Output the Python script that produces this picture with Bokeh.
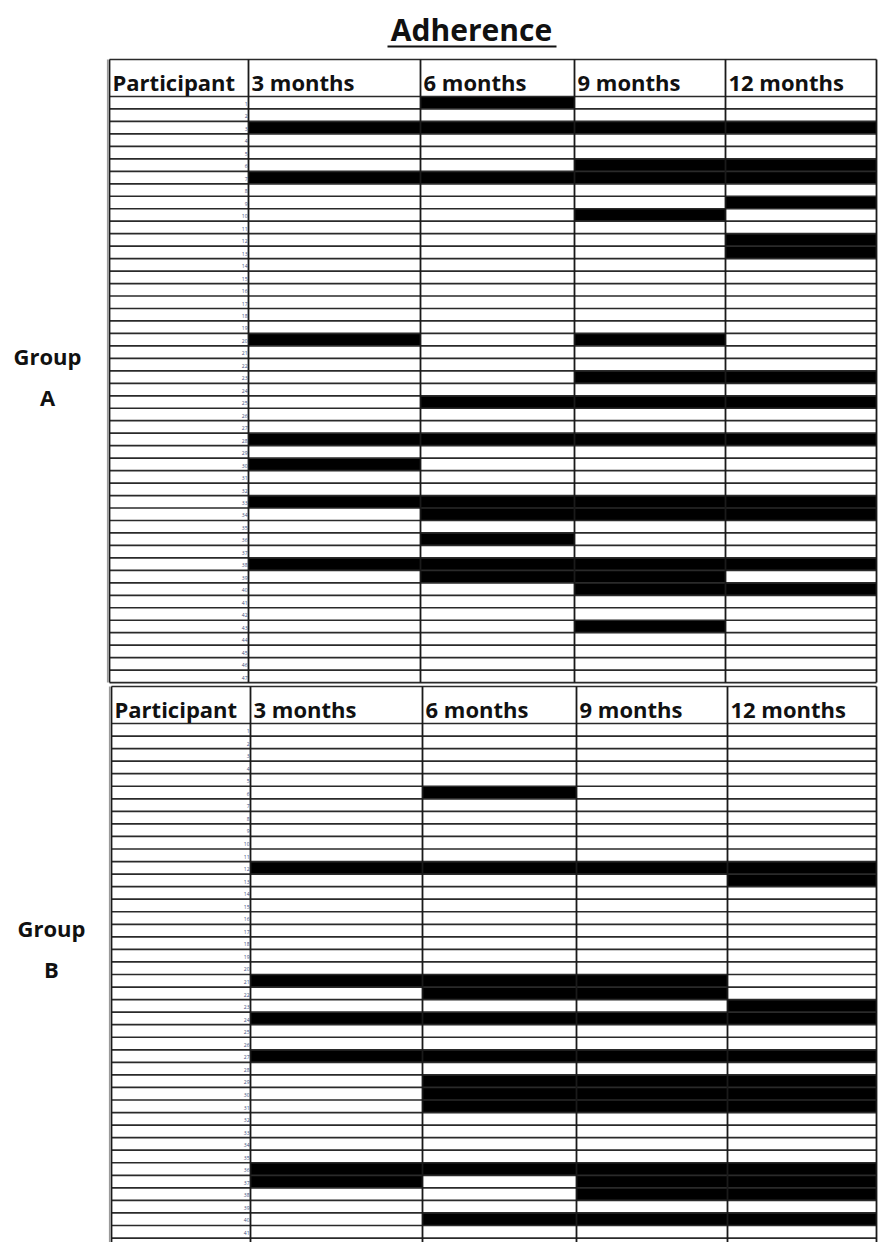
from bokeh.plotting import figure
from bokeh.models import Range1d
from bokeh.core.properties import value
from bokeh.embed import file_html
from bokeh.resources import INLINE

# ---------------- data ----------------
title = "Adherence"
months = ["3 months", "6 months", "9 months", "12 months"]
id_header = "Participant"

group_a_label = ["Group", "A"]
group_a_ids = [str(i) for i in range(1, 48)]          # 47 participants (labels illegible)
# participant rows (1-based) shown black at each visit
group_a_3m = [3, 7, 20, 28, 30, 33, 38]
group_a_6m = [1, 3, 7, 25, 28, 33, 34, 36, 38, 39]
group_a_9m = [3, 6, 7, 10, 20, 23, 25, 28, 33, 34, 38, 39, 40, 43]
group_a_12m = [3, 6, 7, 9, 12, 13, 23, 25, 28, 33, 34, 38, 40]

group_b_label = ["Group", "B"]
group_b_ids = [str(i) for i in range(1, 42)]          # visible rows (table is cut at bottom)
group_b_3m = [12, 21, 24, 27, 36, 37]
group_b_6m = [6, 12, 21, 22, 24, 27, 29, 30, 31, 36, 40]
group_b_9m = [12, 21, 22, 24, 27, 29, 30, 31, 36, 37, 38, 40]
group_b_12m = [12, 13, 23, 24, 27, 29, 30, 31, 36, 37, 38, 40]

# ---------------- layout ----------------
W, H = 879, 1242
FONT = "Open Sans"

p = figure(width=W, height=H, x_range=Range1d(0, W), y_range=Range1d(H, 0),
           output_backend="svg", toolbar_location=None, min_border=0)
p.axis.visible = False
p.grid.visible = False
p.outline_line_color = None
p.background_fill_color = "white"

# title
p.text(x=[471], y=[29], text=[title], text_align="center", text_baseline="middle",
       text_font=value(FONT), text_font_size="30px", text_font_style="bold", text_color="#111111")
p.segment(x0=[387], y0=[46], x1=[556], y1=[46], line_color="#111111", line_width=2.2)


def draw_group(ids, flags, label, edges, head_top, head_bot, row_h, label_x, label_y, extra=0):
    n = len(ids)
    bottom = head_bot + (n + extra) * row_h
    # black cells
    L, R, T, B = [], [], [], []
    for c, rows in enumerate(flags):
        for r in rows:
            L.append(edges[c + 1]); R.append(edges[c + 2])
            T.append(head_bot + (r - 1) * row_h); B.append(head_bot + r * row_h)
    p.quad(left=L, right=R, top=T, bottom=B, fill_color="black", line_color=None)
    # horizontal row lines
    ys = [head_top, head_bot] + [head_bot + (i + 1) * row_h for i in range(n + extra)]
    p.segment(x0=[edges[0]] * len(ys), y0=ys, x1=[edges[-1]] * len(ys), y1=ys,
              line_color="#2a2a2a", line_width=1.7)
    # vertical lines
    p.segment(x0=edges, y0=[head_top] * len(edges), x1=edges, y1=[bottom] * len(edges),
              line_color="#1a1a1a", line_width=1.8)
    p.segment(x0=[edges[0] - 2], y0=[head_top], x1=[edges[0] - 2], y1=[bottom],
              line_color="#9a9a9a", line_width=1.2)
    # header texts
    hy = head_top + 22
    p.text(x=[edges[0] + 3] + [e + 3 for e in edges[1:5]], y=[hy] * 5,
           text=[id_header] + months, text_align="left", text_baseline="middle",
           text_font=value(FONT), text_font_size="22px", text_font_style="bold",
           text_color="#111111")
    # participant ids (tiny)
    p.text(x=[edges[1] - 1] * n, y=[head_bot + (i + 0.6) * row_h for i in range(n)],
           text=ids, text_align="right", text_baseline="middle",
           text_font=value(FONT), text_font_size="5px", text_color="#3a4a7a")
    # group label
    p.text(x=[label_x, label_x], y=[label_y, label_y + 41], text=label,
           text_align="center", text_baseline="middle",
           text_font=value(FONT), text_font_size="22px", text_font_style="bold",
           text_color="#111111")


draw_group(group_a_ids, [group_a_3m, group_a_6m, group_a_9m, group_a_12m], group_a_label,
           [109, 248, 420, 574, 725, 876], 59, 96, 12.47, 47, 355)
draw_group(group_b_ids, [group_b_3m, group_b_6m, group_b_9m, group_b_12m], group_b_label,
           [111, 250, 422, 576, 727, 876], 686, 723, 12.55, 51, 927, extra=1)

open("out.html", "w").write(file_html(p, INLINE))
